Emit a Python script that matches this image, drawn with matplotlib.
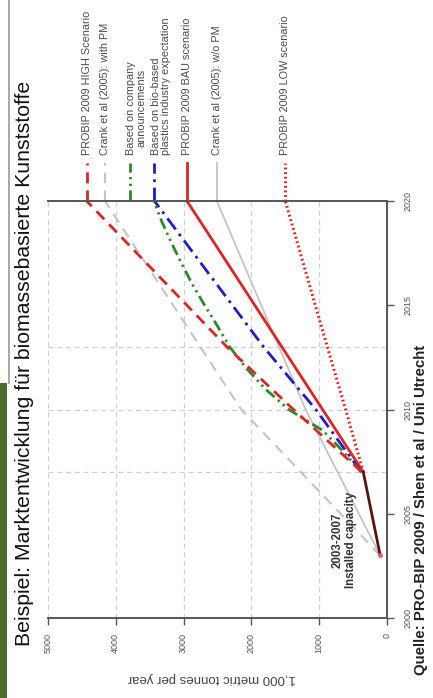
import matplotlib.pyplot as plt
from matplotlib.lines import Line2D
from matplotlib.patches import Rectangle

plt.rcParams['font.family'] = ['Liberation Sans', 'DejaVu Sans']

# data
inst_years = [2003, 2007]
inst = [100, 350]

high_years = [2007, 2010, 2013, 2020]
high = [370, 1380, 2360, 4430]

crank_pm_years = [2003, 2010, 2020]
crank_pm = [100, 2150, 4160]

company_years = list(range(2007, 2021))
company = [380, 650, 950, 1450, 1800, 2080, 2320, 2500, 2690, 2870, 3030, 3180, 3320, 3440]
company_label_pos = 3790

bio_years = [2007, 2010, 2013, 2020]
bio = [380, 1050, 1820, 3430]

bau_years = [2007, 2010, 2013, 2020]
bau = [350, 950, 1550, 2950]

crank_nopm_years = [2003, 2010, 2020]
crank_nopm = [100, 1200, 2510]

low_years = [2007, 2010, 2013, 2020]
low = [350, 610, 880, 1500]

year_ticks = [2000, 2005, 2010, 2015, 2020]
value_ticks = [0, 1000, 2000, 3000, 4000, 5000]
grid_years = [2007, 2010, 2013]

RED = '#e02424'
GRAY = '#c4c4c4'
GREEN = '#2a8a2a'
BLUE = '#1c1ccc'

fig = plt.figure(figsize=(4.33, 6.98), dpi=100)
W, H = 433, 698
ax = fig.add_axes([48 / W, 80 / H, 339 / W, 417 / H])

# chart is drawn turned by 90 degrees: values run right-to-left, years bottom-to-top
ax.set_xlim(5000, 0)
ax.set_ylim(2000, 2020)

for v in value_ticks[1:]:
    ax.axvline(v, color='#d0d0d0', lw=0.9, ls=(0, (4, 3)), zorder=0)
for yr in grid_years:
    ax.axhline(yr, color='#d0d0d0', lw=0.9, ls=(0, (4, 3)), zorder=0)

series = [
    (crank_pm, crank_pm_years, GRAY, 1.5, (0, (5, 3.5)), None, 'Crank et al (2005): with PM', 'left'),
    (crank_nopm, crank_nopm_years, GRAY, 1.3, '-', None, 'Crank et al (2005): w/o PM', 'left'),
    (low, low_years, RED, 2.2, (0, (0.6, 0.9)), None, 'PROBIP 2009 LOW scenario', 'left'),
    (bau, bau_years, RED, 2.0, '-', None, 'PROBIP 2009 BAU scenario', 'left'),
    (bio, bio_years, BLUE, 2.0, (0, (5, 2, 1, 2)), None,
     'Based on bio-based\nplastics industry expectation', 'left'),
    (company, company_years, GREEN, 2.0, (0, (4, 1.6, 0.8, 1.6, 0.8, 1.6)), company_label_pos,
     'Based on company\nannouncements', 'center'),
    (high, high_years, RED, 2.0, (0, (4, 2.5)), None, 'PROBIP 2009 HIGH Scenario', 'left'),
]

for vals, yrs, col, lw, ls, lab_pos, label, malign in series:
    ax.plot(vals, yrs, color=col, lw=lw, ls=ls, solid_capstyle='butt')
    xpos = vals[-1] if lab_pos is None else lab_pos
    ax.plot([xpos, xpos], [2020, 2021.8], color=col, lw=lw, ls=ls, clip_on=False)
    nlines = label.count('\n') + 1
    shift = 0 if nlines == 1 else 95
    ax.text(xpos - shift, 2022.2, label, rotation=90, rotation_mode='anchor',
            ha='left', va='center', multialignment=malign, fontsize=7.8,
            color='#4a4a4a', linespacing=1.05, clip_on=False)

ax.plot(inst, inst_years, color='#5a1212', lw=2.0)
ax.plot(inst[:1], inst_years[:1], 'o', color='#e06070', ms=2.5)

ax.text(627, 2003.75, '2003-2007\nInstalled capacity', rotation=90, ha='center', va='center',
        multialignment='center', fontsize=8.3, fontweight='bold', color='#333333')

ax.yaxis.tick_right()
ax.set_yticks(year_ticks)
ax.set_xticks(value_ticks)
ax.tick_params(axis='y', labelrotation=90, length=5, width=1, color='#555555',
               labelsize=6.5, labelcolor='#555555', pad=7)
ax.tick_params(axis='x', labelrotation=90, length=5, width=1, color='#555555',
               labelsize=6.5, labelcolor='#555555', pad=6)
for lab in ax.get_yticklabels():
    lab.set_va('center')
    lab.set_ha('left')

ax.spines['left'].set_visible(False)
for s in ['top', 'right', 'bottom']:
    ax.spines[s].set_color('#555555')
    ax.spines[s].set_linewidth(1.4)

fig.text(212 / W, 1 - 678 / H, '1,000 metric tonnes per year', rotation=180,
         ha='center', va='center', fontsize=9.5, color='#444444')
fig.text(25 / W, 1 - 363 / H, 'Beispiel: Marktentwicklung für biomassebasierte Kunststoffe',
         rotation=90, ha='center', va='center', fontsize=15.3, color='#111111')
fig.text(421 / W, 1 - 510 / H, 'Quelle: PRO-BIP 2009 / Shen et al / Uni Utrecht',
         rotation=90, ha='center', va='center', fontsize=10.8, fontweight='bold', color='#222222')

# slide decoration at the left edge
fig.add_artist(Rectangle((0, 0), 7 / W, (H - 383) / H, transform=fig.transFigure,
                         color='#4d6b2a', lw=0))
fig.add_artist(Line2D([8.5 / W, 8.5 / W], [(H - 383) / H, 1], transform=fig.transFigure,
                      color='#9a9a9a', lw=1.2))

fig.savefig('out.png', dpi=100)
